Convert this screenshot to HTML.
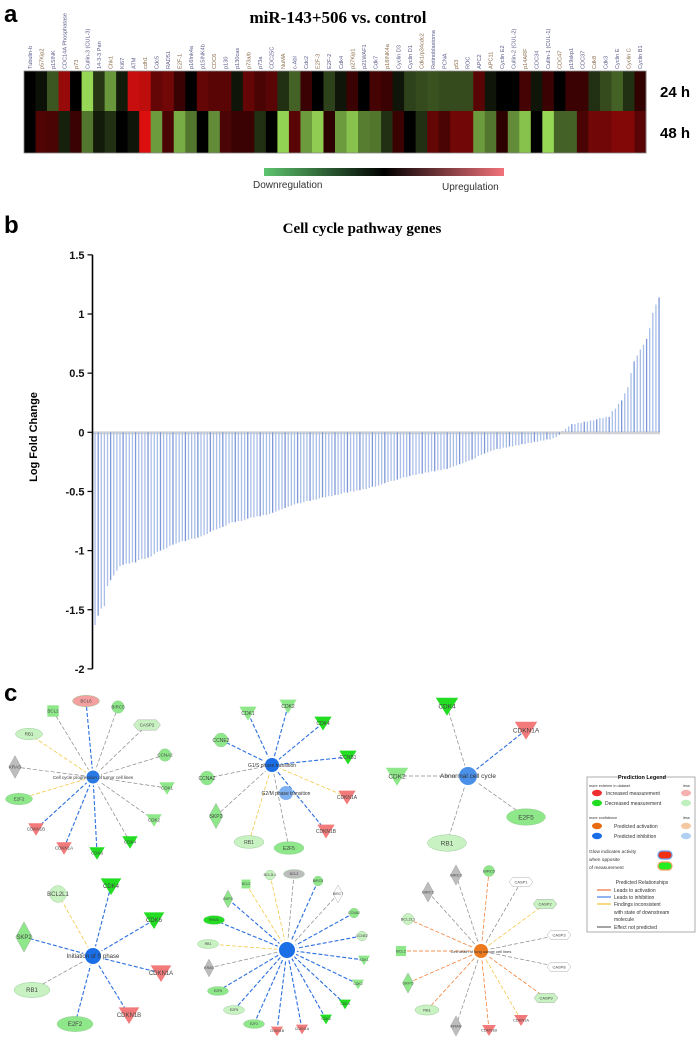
<!DOCTYPE html>
<html><head><meta charset="utf-8"><style>
html,body{margin:0;padding:0;background:#fff;}
svg{display:block;font-family:"Liberation Sans",sans-serif;}
</style></head><body>
<svg id="fig" width="700" height="1061" viewBox="0 0 700 1061" xmlns="http://www.w3.org/2000/svg">
<text x="4" y="22" font-size="24" font-weight="bold">a</text>
<text x="338" y="23" text-anchor="middle" font-family="Liberation Serif,serif" font-weight="bold" font-size="17">miR-143+506 vs. control</text>
<g id="hm"></g>
<g id="hmlabels"></g>
<text x="660" y="97" font-size="15" font-weight="bold">24 h</text>
<text x="660" y="138" font-size="15" font-weight="bold">48 h</text>
<defs>
<linearGradient id="cb" x1="0" x2="1"><stop offset="0" stop-color="#5ec46e"/><stop offset="0.5" stop-color="#000"/><stop offset="1" stop-color="#f2727a"/></linearGradient>
</defs>
<rect x="264" y="168" width="240" height="8" fill="url(#cb)"/>
<text x="253" y="188" font-size="10" fill="#333">Downregulation</text>
<text x="442" y="190" font-size="10" fill="#333">Upregulation</text>

<text x="4" y="233" font-size="24" font-weight="bold">b</text>
<text x="362" y="233" text-anchor="middle" font-family="Liberation Serif,serif" font-weight="bold" font-size="15">Cell cycle pathway genes</text>
<text transform="translate(37,437) rotate(-90)" text-anchor="middle" font-size="11" font-weight="bold">Log Fold Change</text>
<g id="bars"></g>

<text x="4" y="701" font-size="24" font-weight="bold">c</text>
<g id="nets"></g>
<g id="legend"></g>
</svg>
<script>
// ---------- heatmap data ----------
const genes = ["Tubulin-b","p57Kip2","p15INK","CDC14A Phosphatase","p73","Cullin-3 (CUL-3)","14-3-3 Pan","Chk1","Ki67","ATM","cdh1","Cdc5","RAD51","E2F-1","p16Ink4a","p15INK4b","CDC6","p130","p130cas","p73a/b","p73a","CDC25C","NuMA","c-Abl","Cdc2","E2F-3","E2F-2","Cdk4","p27Kip1","p21WAF1","Cdk7","p18INK4a","Cyclin D3","Cyclin D1","Cdk1/p34cdc2","Retinoblastoma","PCNA","p53","ROC","APC2","APC11","Cyclin E2","Cullin-2 (CUL-2)","p14ARF","CDC34","Cullin-1 (CUL-1)","CDC47","p19skp1","CDC37","Cdk8","Cdk3","Cyclin E","Cyclin C","Cyclin B1"];
const h24 = [0,-0.08,-0.4,0.6,0,-1,-0.25,-0.7,-0.12,0.85,0.8,0.35,0.42,0.14,0,0.35,0.3,0.3,-0.1,0.35,0.22,0.3,-0.22,-0.45,0.14,0,-0.3,-0.1,0.14,0,0.2,0.14,-0.1,-0.3,-0.35,-0.38,-0.35,-0.35,-0.35,0.3,-0.1,0,0,0.2,-0.1,0.14,0,0.14,0.14,-0.22,-0.35,-0.45,-0.22,0.1];
const h48 = [0,0.25,0.22,-0.15,0.14,-0.55,-0.12,-0.22,0,-0.1,0.95,-0.72,0.22,-0.8,-0.55,0,-0.65,0.22,0.14,0.14,-0.22,0,-0.98,0.3,-0.72,-0.95,0.08,-0.72,-0.9,-0.58,-0.55,-0.22,0.14,0,-0.22,0.35,0.22,0.42,0.42,-0.72,-0.55,0.08,-0.65,-0.9,0,-1,-0.45,-0.45,0.22,0.42,0.42,0.5,0.5,0.3];
// ---------- bar chart data ----------
const yTicks = [1.5,1,0.5,0,-0.5,-1,-1.5,-2];
const yTickLabels = ["1.5","1","0.5","0","-0.5","-1","-1.5","-2"];
const barVals = [-1.63,-1.55,-1.49,-1.47,-1.30,-1.25,-1.21,-1.17,-1.13,-1.12,-1.11,-1.11,-1.10,-1.10,
-1.08,-1.07,-1.07,-1.06,-1.05,-1.03,-1.01,-1.00,-0.99,-0.98,-0.96,-0.95,-0.94,-0.93,
-0.92,-0.92,-0.91,-0.90,-0.90,-0.89,-0.88,-0.87,-0.86,-0.84,-0.83,-0.82,-0.81,-0.80,-0.79,
-0.77,-0.76,-0.76,-0.75,-0.75,-0.74,-0.73,-0.72,-0.72,-0.71,-0.71,-0.70,-0.70,-0.69,
-0.68,-0.67,-0.66,-0.65,-0.64,-0.63,-0.62,-0.61,-0.60,-0.60,-0.59,-0.58,-0.58,-0.57,-0.57,
-0.56,-0.55,-0.55,-0.54,-0.54,-0.53,-0.53,-0.52,-0.51,-0.51,-0.50,-0.50,-0.49,-0.49,
-0.48,-0.48,-0.47,-0.46,-0.46,-0.45,-0.44,-0.43,-0.42,-0.41,-0.41,-0.40,-0.39,-0.38,-0.38,
-0.37,-0.36,-0.36,-0.35,-0.35,-0.34,-0.34,-0.33,-0.33,-0.32,-0.32,-0.31,-0.31,-0.30,
-0.29,-0.28,-0.27,-0.26,-0.25,-0.24,-0.23,-0.22,-0.20,-0.19,-0.18,-0.17,-0.16,-0.15,-0.14,
-0.14,-0.13,-0.13,-0.12,-0.12,-0.11,-0.11,-0.10,-0.10,-0.09,-0.09,-0.08,-0.08,-0.07,
-0.07,-0.06,-0.06,-0.05,-0.04,-0.02,0.01,0.03,0.05,0.07,0.07,0.08,
0.08,0.09,0.09,0.10,0.10,0.11,0.12,0.12,0.13,0.13,0.18,0.20,0.24,
0.27,0.33,0.38,0.50,0.60,0.65,0.70,0.74,0.79,0.88,1.01,1.08,1.14];

const NS="http://www.w3.org/2000/svg";
function mk(tag,attrs,parent,txt){const e=document.createElementNS(NS,tag);for(const k in attrs)e.setAttribute(k,attrs[k]);if(txt!==undefined)e.textContent=txt;parent.appendChild(e);return e;}

// heatmap
const hm=document.getElementById('hm'), hl=document.getElementById('hmlabels');
const hx0=24,hx1=646,hy0=71,hyMid=111,hy1=153;
const cw=(hx1-hx0)/genes.length;
function hmColor(v){
  if(v>=0){const t=Math.min(1,v);return `rgb(${Math.round(30+200*t)},${Math.round(16*t)},${Math.round(16*t)})`.replace('rgb(30,','rgb('+Math.round(225*t)+',');}
  const t=Math.min(1,-v);return `rgb(${Math.round(150*t)},${Math.round(215*t)},${Math.round(85*t)})`;
}
[h24,h48].forEach((row,ri)=>{
  row.forEach((v,i)=>{
    const r=mk('rect',{x:hx0+i*cw,y:ri?hyMid:hy0,width:cw+0.4,height:ri?hy1-hyMid:hyMid-hy0,fill:hmColor(v)},hm);
    
    
  });
});
mk('rect',{x:hx0,y:hy0,width:hx1-hx0,height:hy1-hy0,fill:'none',stroke:'#888','stroke-width':0.8},hm);
genes.forEach((g,i)=>{
  const t=mk('text',{transform:`translate(${hx0+i*cw+cw/2+2},69) rotate(-90)`,'font-size':5.6,fill:i%3==1?'#8a6a4a':'#5a5a8a'},hl,g);
  
  
});

// bar chart
const bg=document.getElementById('bars');
const axX=92.5, yZero=432.3, yPerUnit=118.3;
function yS(v){return yZero - v*yPerUnit;}
const bx0=95, bx1=659;
function xS(i){return bx0 + i*(bx1-bx0)/(barVals.length-1);}
mk('rect',{x:axX,y:yZero-1,width:bx1-axX+1,height:3,fill:'#d4d4d4'},bg);
barVals.forEach((v,i)=>{
  const y=Math.min(yS(v),yZero), h=Math.abs(yS(v)-yZero);
  const b=mk('rect',{x:xS(i)-0.6,y:y,width:1.3,height:h,fill:i%4==1?'#7c98d8':'#aabfe8'},bg);
  
  
});
mk('line',{x1:axX,x2:axX,y1:yS(1.5),y2:yS(-2),stroke:'#000','stroke-width':1.6},bg);
yTicks.forEach((t,i)=>{
  mk('line',{x1:axX-5,x2:axX,y1:yS(t),y2:yS(t),stroke:'#000','stroke-width':1.2},bg);
  const l=mk('text',{x:axX-8,y:yS(t)+4,'text-anchor':'end','font-size':11,'font-weight':'bold',fill:'#111'},bg,yTickLabels[i]);
  
  
});

// networks
const nets=document.getElementById('nets');
const FILL={lg:'#c9f2c2',g:'#8ee88a',dg:'#22dd22',r:'#f27a7a',pk:'#f4a0a0',gr:'#bdbdbd',w:'#fff'};
const EC={b:'#2a6ee0',y:'#f2c230',gy:'#888',o:'#f07020'};
function node(g,n,fs){
  const [lab,x,y,shape,fill]=n, f=FILL[fill], s=fs*1.15;
  let e;
  if(shape==='e') e=mk('ellipse',{cx:x,cy:y,rx:s*2.6,ry:s*1.1,fill:f,stroke:'#9c9',"stroke-width":0.5},g);
  else if(shape==='c') e=mk('circle',{cx:x,cy:y,r:s*1.2,fill:f,stroke:'#9c9',"stroke-width":0.5},g);
  else if(shape==='t') e=mk('polygon',{points:`${x-s*1.5},${y-s*1.1} ${x+s*1.5},${y-s*1.1} ${x},${y+s*1.3}`,fill:f},g);
  else if(shape==='d') e=mk('polygon',{points:`${x},${y-s*2.2} ${x+s*1.2},${y} ${x},${y+s*2.2} ${x-s*1.2},${y}`,fill:f,stroke:'#999',"stroke-width":0.4},g);
  else if(shape==='h') e=mk('polygon',{points:`${x-s*2.6},${y} ${x-s*1.8},${y-s} ${x+s*1.8},${y-s} ${x+s*2.6},${y} ${x+s*1.8},${y+s} ${x-s*1.8},${y+s}`,fill:f,stroke:'#999',"stroke-width":0.4},g);
  else e=mk('rect',{x:x-s*1.1,y:y-s*1.1,width:s*2.2,height:s*2.2,fill:f},g);
  
  
  mk('text',{x:x,y:y+fs*0.35,'text-anchor':'middle','font-size':fs,fill:'#444'},g,lab);
}
function network(name,cx,cy,cr,cfill,label,nodes,fs){
  const g=mk('g',{},nets);
  
  
  nodes.forEach(n=>{
    const dx=cx-n[1],dy=cy-n[2],d=Math.hypot(dx,dy);
    mk('line',{x1:n[1],y1:n[2],x2:cx-dx/d*(cr+2),y2:cy-dy/d*(cr+2),stroke:EC[n[5]],'stroke-width':n[5]==='b'?1.1:0.7,'stroke-dasharray':'4,2'},g);
  });
  nodes.forEach(n=>node(g,n,fs));
  const c=mk('circle',{cx:cx,cy:cy,r:cr,fill:cfill},g);
  
  
  mk('text',{x:cx,y:cy+2,'text-anchor':'middle','font-size':fs,fill:'#333'},g,label);
  return g;
}
network('network-cell-cycle-progression',93,777,6.5,'#2a7ae6','Cell cycle progression of tumor cell lines',[
 ['BCL6',86,701,'e','pk','b'],['BCL2',53,711,'s','g','gy'],['BIRC5',118,707,'c','g','gy'],['CASP2',147,725,'h','lg','gy'],
 ['RB1',29,734,'e','lg','y'],['CCNA2',165,755,'c','g','gy'],['KRAS',15,767,'d','gr','gy'],['CDK1',167,788,'t','g','gy'],
 ['E2F2',19,799,'e','g','y'],['CDK2',154,820,'t','g','gy'],['CDKN1B',36,829,'t','r','b'],['CDK4',130,842,'t','dg','gy'],
 ['CDKN1A',64,848,'t','r','b'],['CDK6',97,853,'t','dg','b']],4.5);
const n2=network('network-g1s-transition',272,765,7,'#1a6ee6','G1/S phase transition',[
 ['CDK1',248,713,'t','g','b'],['CDK2',288,706,'t','g','b'],['CDK4',323,723,'t','dg','b'],['CCNE2',221,740,'c','g','b'],
 ['CCNB1',348,757,'t','dg','b'],['CCNA2',207,778,'c','g','gy'],['CDKN1A',347,797,'t','r','y'],['SKP2',216,816,'d','g','gy'],
 ['CDKN1B',326,831,'t','r','b'],['RB1',249,842,'e','lg','y'],['E2F5',289,848,'e','g','gy']],5);
{const c=mk('circle',{cx:286,cy:793,r:7,fill:'#7fb0f0'},n2);
 mk('text',{x:286,y:795,'text-anchor':'middle','font-size':5,fill:'#333'},n2,'G2/M phase transition');}
network('network-abnormal-cell-cycle',468,776,9,'#4a90e8','Abnormal cell cycle',[
 ['CDK4',447,706,'t','dg','gy'],['CDKN1A',526,730,'t','r','b'],['CDK2',397,776,'t','g','gy'],['E2F5',526,817,'e','g','gy'],['RB1',447,843,'e','lg','gy']],6.5);
network('network-initiation-s-phase',93,956,8,'#1a6ee6','Initiation of S phase',[
 ['BCL2L1',58,894,'c','lg','y'],['CDK4',111,886,'t','dg','b'],['CDK6',154,920,'t','dg','b'],['SKP2',24,937,'d','g','b'],
 ['CDKN1A',161,973,'t','r','b'],['RB1',32,990,'e','lg','gy'],['CDKN1B',129,1015,'t','r','b'],['E2F2',75,1024,'e','g','b']],6);
network('network-proliferation',287,950,8,'#1a6ee6','',[
 ['BCL2L1',270,875,'c','lg','y'],['BCL3',294,874,'e','gr','gy'],['BIRC5',318,881,'c','g','b'],['BIRC7',338,894,'d','w','gy'],
 ['BCL2',246,884,'s','g','y'],['SKP2',228,899,'d','g','b'],['RRM1',214,920,'e','dg','b'],['RB1',208,944,'e','lg','y'],
 ['KRAS',209,968,'d','gr','gy'],['E2F6',218,991,'e','g','b'],['E2F5',234,1010,'e','lg','b'],['E2F2',254,1024,'e','g','b'],
 ['CDKN1B',277,1031,'t','r','b'],['CDKN1A',302,1029,'t','r','b'],['CDK6',326,1019,'t','dg','b'],['CDK4',345,1004,'t','dg','b'],
 ['CCNA2',354,913,'c','g','b'],['CCNE2',362,936,'c','lg','b'],['CDK1',364,960,'t','g','b'],['CDK2',358,984,'t','g','b']],3.5);
network('network-cell-death',481,951,7,'#ee7a20','Cell death of lung cancer cell lines',[
 ['BIRC3',456,875,'d','gr','gy'],['BIRC5',489,871,'c','g','o'],['CASP1',521,882,'h','w','gy'],['BIRC2',428,892,'d','gr','gy'],
 ['CASP2',545,904,'h','lg','y'],['BCL2L1',408,919,'c','lg','o'],['CASP3',559,935,'h','w','gy'],['BCL2',401,951,'s','g','o'],
 ['CASP8',559,967,'h','w','gy'],['SKP2',408,983,'d','g','o'],['CASP9',546,998,'h','lg','o'],['RB1',427,1010,'e','lg','o'],
 ['CDKN1A',521,1020,'t','r','y'],['KRAS',456,1026,'d','gr','gy'],['CDKN1B',489,1030,'t','r','o']],4);

// legend
const lg=document.getElementById('legend');
mk('rect',{x:587,y:777,width:108,height:155,fill:'#fff',stroke:'#999','stroke-width':0.8},lg);
mk('rect',{x:620,y:773,width:44,height:7,fill:'#fff'},lg);
mk('text',{x:642,y:779,'text-anchor':'middle','font-size':5.5,'font-weight':'bold'},lg,'Prediction Legend');
const L=(x,y,t,fs)=>mk('text',{x:x,y:y,'font-size':fs||4.3,fill:'#333'},lg,t);
L(589,787,'more extreme in dataset',3.8);L(683,787,'less',3.8);
mk('ellipse',{cx:597,cy:793,rx:5,ry:3.2,fill:'#f03030'},lg);L(606,795,'Increased measurement',5);mk('ellipse',{cx:686,cy:793,rx:5,ry:3.2,fill:'#f6b0b0'},lg);
mk('ellipse',{cx:597,cy:803,rx:5,ry:3.2,fill:'#22dd22'},lg);L(605,805,'Decreased measurement',5);mk('ellipse',{cx:686,cy:803,rx:5,ry:3.2,fill:'#c0f0c0'},lg);
L(589,819,'more confidence',3.8);L(683,819,'less',3.8);
mk('ellipse',{cx:597,cy:826,rx:5,ry:3.2,fill:'#e86a10'},lg);L(614,828,'Predicted activation',5);mk('ellipse',{cx:686,cy:826,rx:5,ry:3.2,fill:'#f4c8a0'},lg);
mk('ellipse',{cx:597,cy:836,rx:5,ry:3.2,fill:'#1a6ee6'},lg);L(614,838,'Predicted inhibition',5);mk('ellipse',{cx:686,cy:836,rx:5,ry:3.2,fill:'#b0d0f4'},lg);
L(589,853,'Glow indicates activity',4.8);L(589,861,'when opposite',4.8);L(589,869,'of measurement',4.8);
mk('rect',{x:658,y:851,width:14,height:8,rx:4,fill:'#f03010',stroke:'#6aa0f0','stroke-width':1.2},lg);
mk('rect',{x:658,y:862,width:14,height:8,rx:4,fill:'#22ee22',stroke:'#f0a060','stroke-width':1.2},lg);
mk('text',{x:642,y:884,'text-anchor':'middle','font-size':5,fill:'#333'},lg,'Predicted Relationships');
[[890,'#f07040','Leads to activation'],[897,'#4a80e8','Leads to inhibition'],[904,'#f2c230','Findings inconsistent'],[927,'#666','Effect not predicted']].forEach(r=>{
  mk('line',{x1:597,x2:611,y1:r[0],y2:r[0],stroke:r[1],'stroke-width':1.2},lg);L(614,r[0]+1.8,r[2],5);
});
L(614,913.8,'with state of downstream',5);L(614,921,'molecule',5);
</script>
</body></html>
